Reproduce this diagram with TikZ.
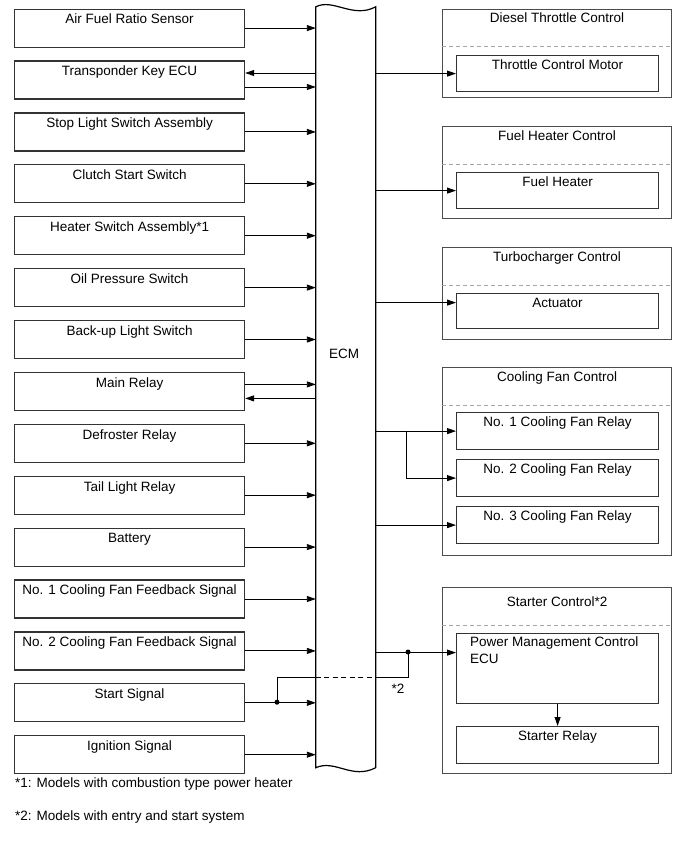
\documentclass[tikz,border=0pt]{standalone}
\usepackage{fontspec}
\setmainfont{Liberation Sans}
\usetikzlibrary{arrows.meta,calc}
\begin{document}
\begin{tikzpicture}[x=1pt,y=-1pt,
  every node/.style={font=\fontsize{13.5}{16.6}\selectfont, inner sep=0pt},
  lbox/.style={draw=black!80, line width=1.2pt, rectangle, anchor=north west,
    minimum width=230pt, minimum height=38pt, text height=14.8pt, text depth=23.2pt},
  ibox/.style={draw=black!80, line width=1.2pt, rectangle, anchor=north west,
    minimum width=202pt, minimum height=#1, text height=13.5pt},
  obox/.style={draw=black!70, line width=1.2pt, rectangle, anchor=north west,
    minimum width=229pt, minimum height=#1},
  sep/.style={draw=black!35, line width=1pt, dash pattern=on 4pt off 3pt},
  conn/.style={draw=black, line width=0.9pt},
  arr/.style={conn, -{Triangle[length=9pt,width=6pt]}},
  dot/.style={circle, fill=black, minimum size=5pt, inner sep=0pt},
]
\useasboundingbox (0,0) rectangle (690,854);

% ---- left boxes ----
\node[lbox] (b1)  at (14,8.5)   {Air Fuel Ratio Sensor};
\node[lbox] (b2)  at (14,60.4)  {Transponder Key ECU};
\node[lbox] (b3)  at (14,112.3) {Stop Light Switch Assembly};
\node[lbox] (b4)  at (14,164.2) {Clutch Start Switch};
\node[lbox] (b5)  at (14,216.1) {Heater Switch Assembly*1};
\node[lbox] (b6)  at (14,268)   {Oil Pressure Switch};
\node[lbox] (b7)  at (14,319.9) {Back-up Light Switch};
\node[lbox] (b8)  at (14,371.8) {Main Relay};
\node[lbox] (b9)  at (14,423.7) {Defroster Relay};
\node[lbox] (b10) at (14,475.6) {Tail Light Relay};
\node[lbox] (b11) at (14,527.5) {Battery};
\node[lbox] (b12) at (14,579.4) {No. 1 Cooling Fan Feedback Signal};
\node[lbox] (b13) at (14,631.3) {No. 2 Cooling Fan Feedback Signal};
\node[lbox] (b14) at (14,683.2) {Start Signal};
\node[lbox] (b15) at (14,735.1) {Ignition Signal};

% ---- ECM ----
\node[rectangle, minimum width=59.5pt, minimum height=760.5pt] (ecm) at (345.75,387.25) {};
\draw[line width=1.2pt] (ecm.north west) .. controls (333,-2) and (353,19) .. (ecm.north east)
  -- (ecm.south east) .. controls (352,780) and (335,759) .. (ecm.south west) -- cycle;
\node (ecmlabel) at (344,354) {ECM};

% ---- right boxes ----
\node[obox=88pt, text height=13pt, text depth=75pt] (dt) at (442,9) {Diesel Throttle Control};
\draw[sep] ([yshift=-37pt]dt.north west) -- ([yshift=-37pt]dt.north east);
\node[ibox=36pt, text depth=22.5pt] (tcm) at (456,55) {Throttle Control Motor};

\node[obox=92pt, text height=13.5pt, text depth=78.5pt] (fh) at (442,126) {Fuel Heater Control};
\draw[sep] ([yshift=-38pt]fh.north west) -- ([yshift=-38pt]fh.north east);
\node[ibox=36pt, text depth=22.5pt] (fhi) at (456,172) {Fuel Heater};

\node[obox=92pt, text height=13.5pt, text depth=78.5pt] (tc) at (442,247) {Turbocharger Control};
\draw[sep] ([yshift=-38pt]tc.north west) -- ([yshift=-38pt]tc.north east);
\node[ibox=35pt, text depth=21.5pt] (act) at (456,293) {Actuator};

\node[obox=188pt, text height=13.5pt, text depth=174.5pt] (cf) at (442,367) {Cooling Fan Control};
\draw[sep] ([yshift=-38.7pt]cf.north west) -- ([yshift=-38.7pt]cf.north east);
\node[ibox=37pt, text depth=23.5pt] (r1) at (456,412) {No. 1 Cooling Fan Relay};
\node[ibox=37pt, text depth=23.5pt] (r2) at (456,459) {No. 2 Cooling Fan Relay};
\node[ibox=37pt, text depth=23.5pt] (r3) at (456,506) {No. 3 Cooling Fan Relay};

\node[obox=186pt, text height=19pt, text depth=167pt] (sc) at (442,587) {Starter Control*2};
\draw[sep] ([yshift=-38pt]sc.north west) -- ([yshift=-38pt]sc.north east);
\node[draw=black!80, line width=1.2pt, rectangle, anchor=north west,
  minimum width=202pt, minimum height=70pt] (pmc) at (456,633) {};
\node[anchor=north west, align=left] (pmct) at ([xshift=14pt,yshift=-4pt]pmc.north west)
  {Power Management Control\\ECU};
\node[ibox=37pt, text depth=23.5pt] (sr) at (456,726) {Starter Relay};

% ---- left connectors ----
\draw[arr] (b1.east) -- (b1.east -| ecm.west);
\draw[arr] ([yshift=7pt]b2.east -| ecm.west) -- ([yshift=7pt]b2.east);
\draw[arr] ([yshift=-7pt]b2.east) -- ([yshift=-7pt]b2.east -| ecm.west);
\foreach \b in {b3,b4,b5,b6,b7,b9,b10,b11,b12,b13,b14,b15}
  \draw[arr] (\b.east) -- (\b.east -| ecm.west);
\draw[arr] ([yshift=7pt]b8.east) -- ([yshift=7pt]b8.east -| ecm.west);
\draw[arr] ([yshift=-7pt]b8.east -| ecm.west) -- ([yshift=-7pt]b8.east);

% ---- right connectors ----
\draw[arr] (tcm.west -| ecm.east) -- (tcm.west);
\draw[arr] (fhi.west -| ecm.east) -- (fhi.west);
\draw[arr] ([yshift=8.5pt]act.west -| ecm.east) -- ([yshift=8.5pt]act.west);
\draw[arr] (r1.west -| ecm.east) -- (r1.west);
\coordinate (br) at (406.5,430.5);
\draw[arr] (br) |- (r2.west);
\draw[arr] (r3.west -| ecm.east) -- (r3.west);
\draw[arr] ([yshift=16pt]pmc.west -| ecm.east) -- ([yshift=16pt]pmc.west);
\draw[arr] (pmc.south) -- (sr.north);

% ---- start signal branch ----
\coordinate (ss) at (277,702.2);
\coordinate (sj) at (408,652);
\coordinate (cr) at (277,677);
\draw[conn] (ss) -- (cr) -- (cr -| ecm.west);
\draw[conn, dash pattern=on 5pt off 3.5pt] (cr -| ecm.west) -- (cr -| ecm.east);
\draw[conn] (cr -| ecm.east) -| (sj);
\node[dot] (ssdot) at (ss) {};
\node[dot] (sjdot) at (sj) {};
\node (st2) at (398,689) {*2};

% ---- footnotes ----
\node[anchor=west] (fn1) at (15,784) {*1: Models with combustion type power heater};
\node[anchor=west] (fn2) at (15,817) {*2: Models with entry and start system};
\end{tikzpicture}
\end{document}
